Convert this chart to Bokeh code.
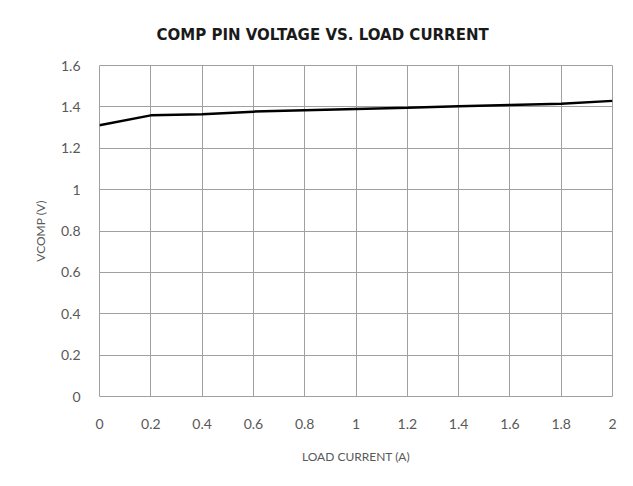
from bokeh.plotting import figure
from bokeh.models import Range1d, FixedTicker, Title
from bokeh.embed import file_html
from bokeh.resources import INLINE

load_current = [0, 0.2, 0.4, 0.6, 0.8, 1.0, 1.2, 1.4, 1.6, 1.8, 2.0]
vcomp = [1.311, 1.359, 1.364, 1.377, 1.384, 1.390, 1.396, 1.403, 1.409, 1.415, 1.429]
x_ticks = [0, 0.2, 0.4, 0.6, 0.8, 1, 1.2, 1.4, 1.6, 1.8, 2]
y_ticks = [0, 0.2, 0.4, 0.6, 0.8, 1, 1.2, 1.4, 1.6]
title_text = "COMP PIN VOLTAGE VS. LOAD CURRENT"

FONT = "Lato"
GRAY = "#595959"
W, H = 633, 486
LEFT, RIGHT, TOP, BOTTOM = 99, 21, 65, 90

p = figure(width=W, height=H, output_backend="svg", toolbar_location=None,
           x_range=Range1d(0, 2), y_range=Range1d(0, 1.6),
           min_border_left=LEFT, min_border_right=RIGHT, min_border_top=TOP, min_border_bottom=BOTTOM)
p.title = None
title = Title(text=title_text, align="left", offset=57, standoff=43,
              text_font="DejaVu Sans", text_font_style="bold", text_font_size="15px",
              text_color="#1a1a1a")
p.add_layout(title, "above")

p.outline_line_color = "#a0a0a0"
p.xgrid.ticker = FixedTicker(ticks=x_ticks)
p.ygrid.ticker = FixedTicker(ticks=y_ticks)
p.xgrid.grid_line_color = "#a0a0a0"
p.ygrid.grid_line_color = "#a0a0a0"
p.xgrid.grid_line_width = 1
p.ygrid.grid_line_width = 1

for ax in (p.xaxis[0], p.yaxis[0]):
    ax.axis_line_color = None
    ax.major_tick_line_color = None
    ax.minor_tick_line_color = None
    ax.major_label_text_font = FONT
    ax.major_label_text_font_size = "14px"
    ax.major_label_text_color = GRAY
    ax.axis_label_text_font = FONT
    ax.axis_label_text_font_size = "12px"
    ax.axis_label_text_font_style = "normal"
    ax.axis_label_text_color = GRAY

p.xaxis.ticker = FixedTicker(ticks=x_ticks)
p.yaxis.ticker = FixedTicker(ticks=y_ticks)
p.xaxis.major_label_overrides = {0: "0", 1: "1", 2: "2"}
p.yaxis.major_label_overrides = {0: "0", 1: "1"}
p.xaxis.major_label_standoff = 16
p.yaxis.major_label_standoff = 13
p.xaxis.axis_label = "LOAD CURRENT (A)"
p.yaxis.axis_label = "VCOMP (V)"
p.xaxis.axis_label_standoff = 17
p.yaxis.axis_label_standoff = 10

p.line(load_current, vcomp, line_color="black", line_width=2.5)

open("out.html", "w").write(file_html(p, INLINE))
